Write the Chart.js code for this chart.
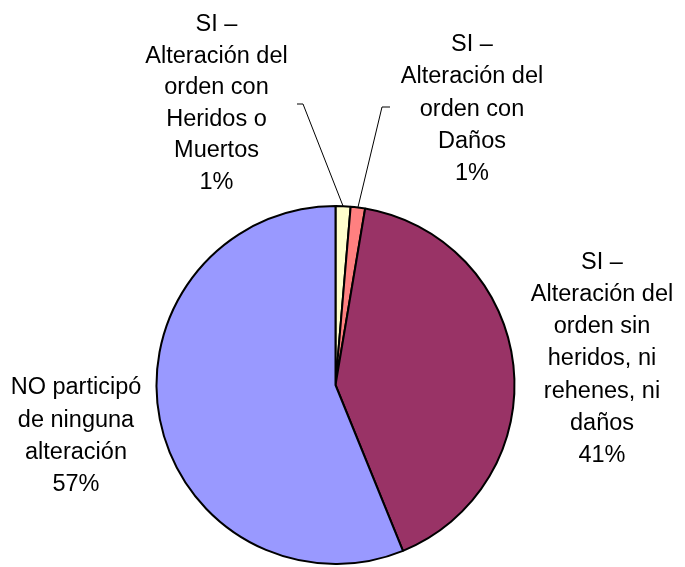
<!DOCTYPE html>
<html>
<head>
<meta charset="utf-8">
<script src="https://cdn.jsdelivr.net/npm/chart.js@4/dist/chart.umd.min.js"></script>
<style>
  html, body { margin: 0; padding: 0; background: #ffffff; }
  #wrap { width: 685px; height: 567px; }
</style>
</head>
<body>
<div id="wrap"><canvas id="c" width="685" height="567"></canvas></div>
<script>
// ---- data ----
const categories = [
  'SI – Alteración del orden con Heridos o Muertos',
  'SI – Alteración del orden con Daños',
  'SI – Alteración del orden sin heridos, ni rehenes, ni daños',
  'NO participó de ninguna alteración'
];
const values = [1.35, 1.3, 41.2, 56.15];
const pctLabels = ['1%', '1%', '41%', '57%'];
const labelLines = [
  ['SI –', 'Alteración del', 'orden con', 'Heridos o', 'Muertos'],
  ['SI –', 'Alteración del', 'orden con', 'Daños'],
  ['SI –', 'Alteración del', 'orden sin', 'heridos, ni', 'rehenes, ni', 'daños'],
  ['NO participó', 'de ninguna', 'alteración']
];
const colors = ['#FFFFCC', '#FF8080', '#993366', '#9999FF'];

// ---- layout (positions of the label blocks) ----
const labelLayout = [
  { cx: 216.5, firstBaseline: 31.0, step: 31.6, leader: [[303, 104], [297, 104]] },
  { cx: 472, firstBaseline: 51.1, step: 32.2, leader: [[382, 107], [390, 107]] },
  { cx: 602, firstBaseline: 268.8, step: 32.2, leader: null },
  { cx: 76, firstBaseline: 394.3, step: 32.2, leader: null }
];

const labelPlugin = {
  id: 'pieLabels',
  afterDatasetsDraw(chart) {
    const ctx = chart.ctx;
    const meta = chart.getDatasetMeta(0);
    ctx.save();
    // leader lines
    ctx.strokeStyle = '#000000';
    ctx.lineWidth = 1;
    meta.data.forEach((arc, i) => {
      const lay = labelLayout[i];
      if (!lay.leader) return;
      const p = arc.getProps(['x', 'y', 'startAngle', 'endAngle', 'outerRadius'], true);
      const mid = (p.startAngle + p.endAngle) / 2;
      const ax = p.x + p.outerRadius * Math.cos(mid);
      const ay = p.y + p.outerRadius * Math.sin(mid);
      ctx.beginPath();
      ctx.moveTo(ax, ay);
      lay.leader.forEach(pt => ctx.lineTo(pt[0], pt[1]));
      ctx.stroke();
    });
    // label texts
    ctx.fillStyle = '#000000';
    ctx.font = '23.5px "Liberation Sans", Arial, sans-serif';
    ctx.textAlign = 'center';
    ctx.textBaseline = 'alphabetic';
    labelLines.forEach((lines, i) => {
      const lay = labelLayout[i];
      const all = lines.concat([pctLabels[i]]);
      all.forEach((t, k) => {
        ctx.fillText(t, lay.cx, lay.firstBaseline + k * lay.step);
      });
    });
    ctx.restore();
  }
};

new Chart(document.getElementById('c'), {
  type: 'pie',
  data: {
    labels: categories,
    datasets: [{
      data: values,
      backgroundColor: colors,
      borderColor: '#000000',
      borderWidth: 2,
      hoverOffset: 0
    }]
  },
  options: {
    responsive: false,
    animation: false,
    radius: 179,
    layout: { padding: { left: 0, right: 14, top: 203, bottom: 0 } },
    plugins: {
      legend: { display: false },
      tooltip: { enabled: false }
    }
  },
  plugins: [labelPlugin]
});
</script>
</body>
</html>
